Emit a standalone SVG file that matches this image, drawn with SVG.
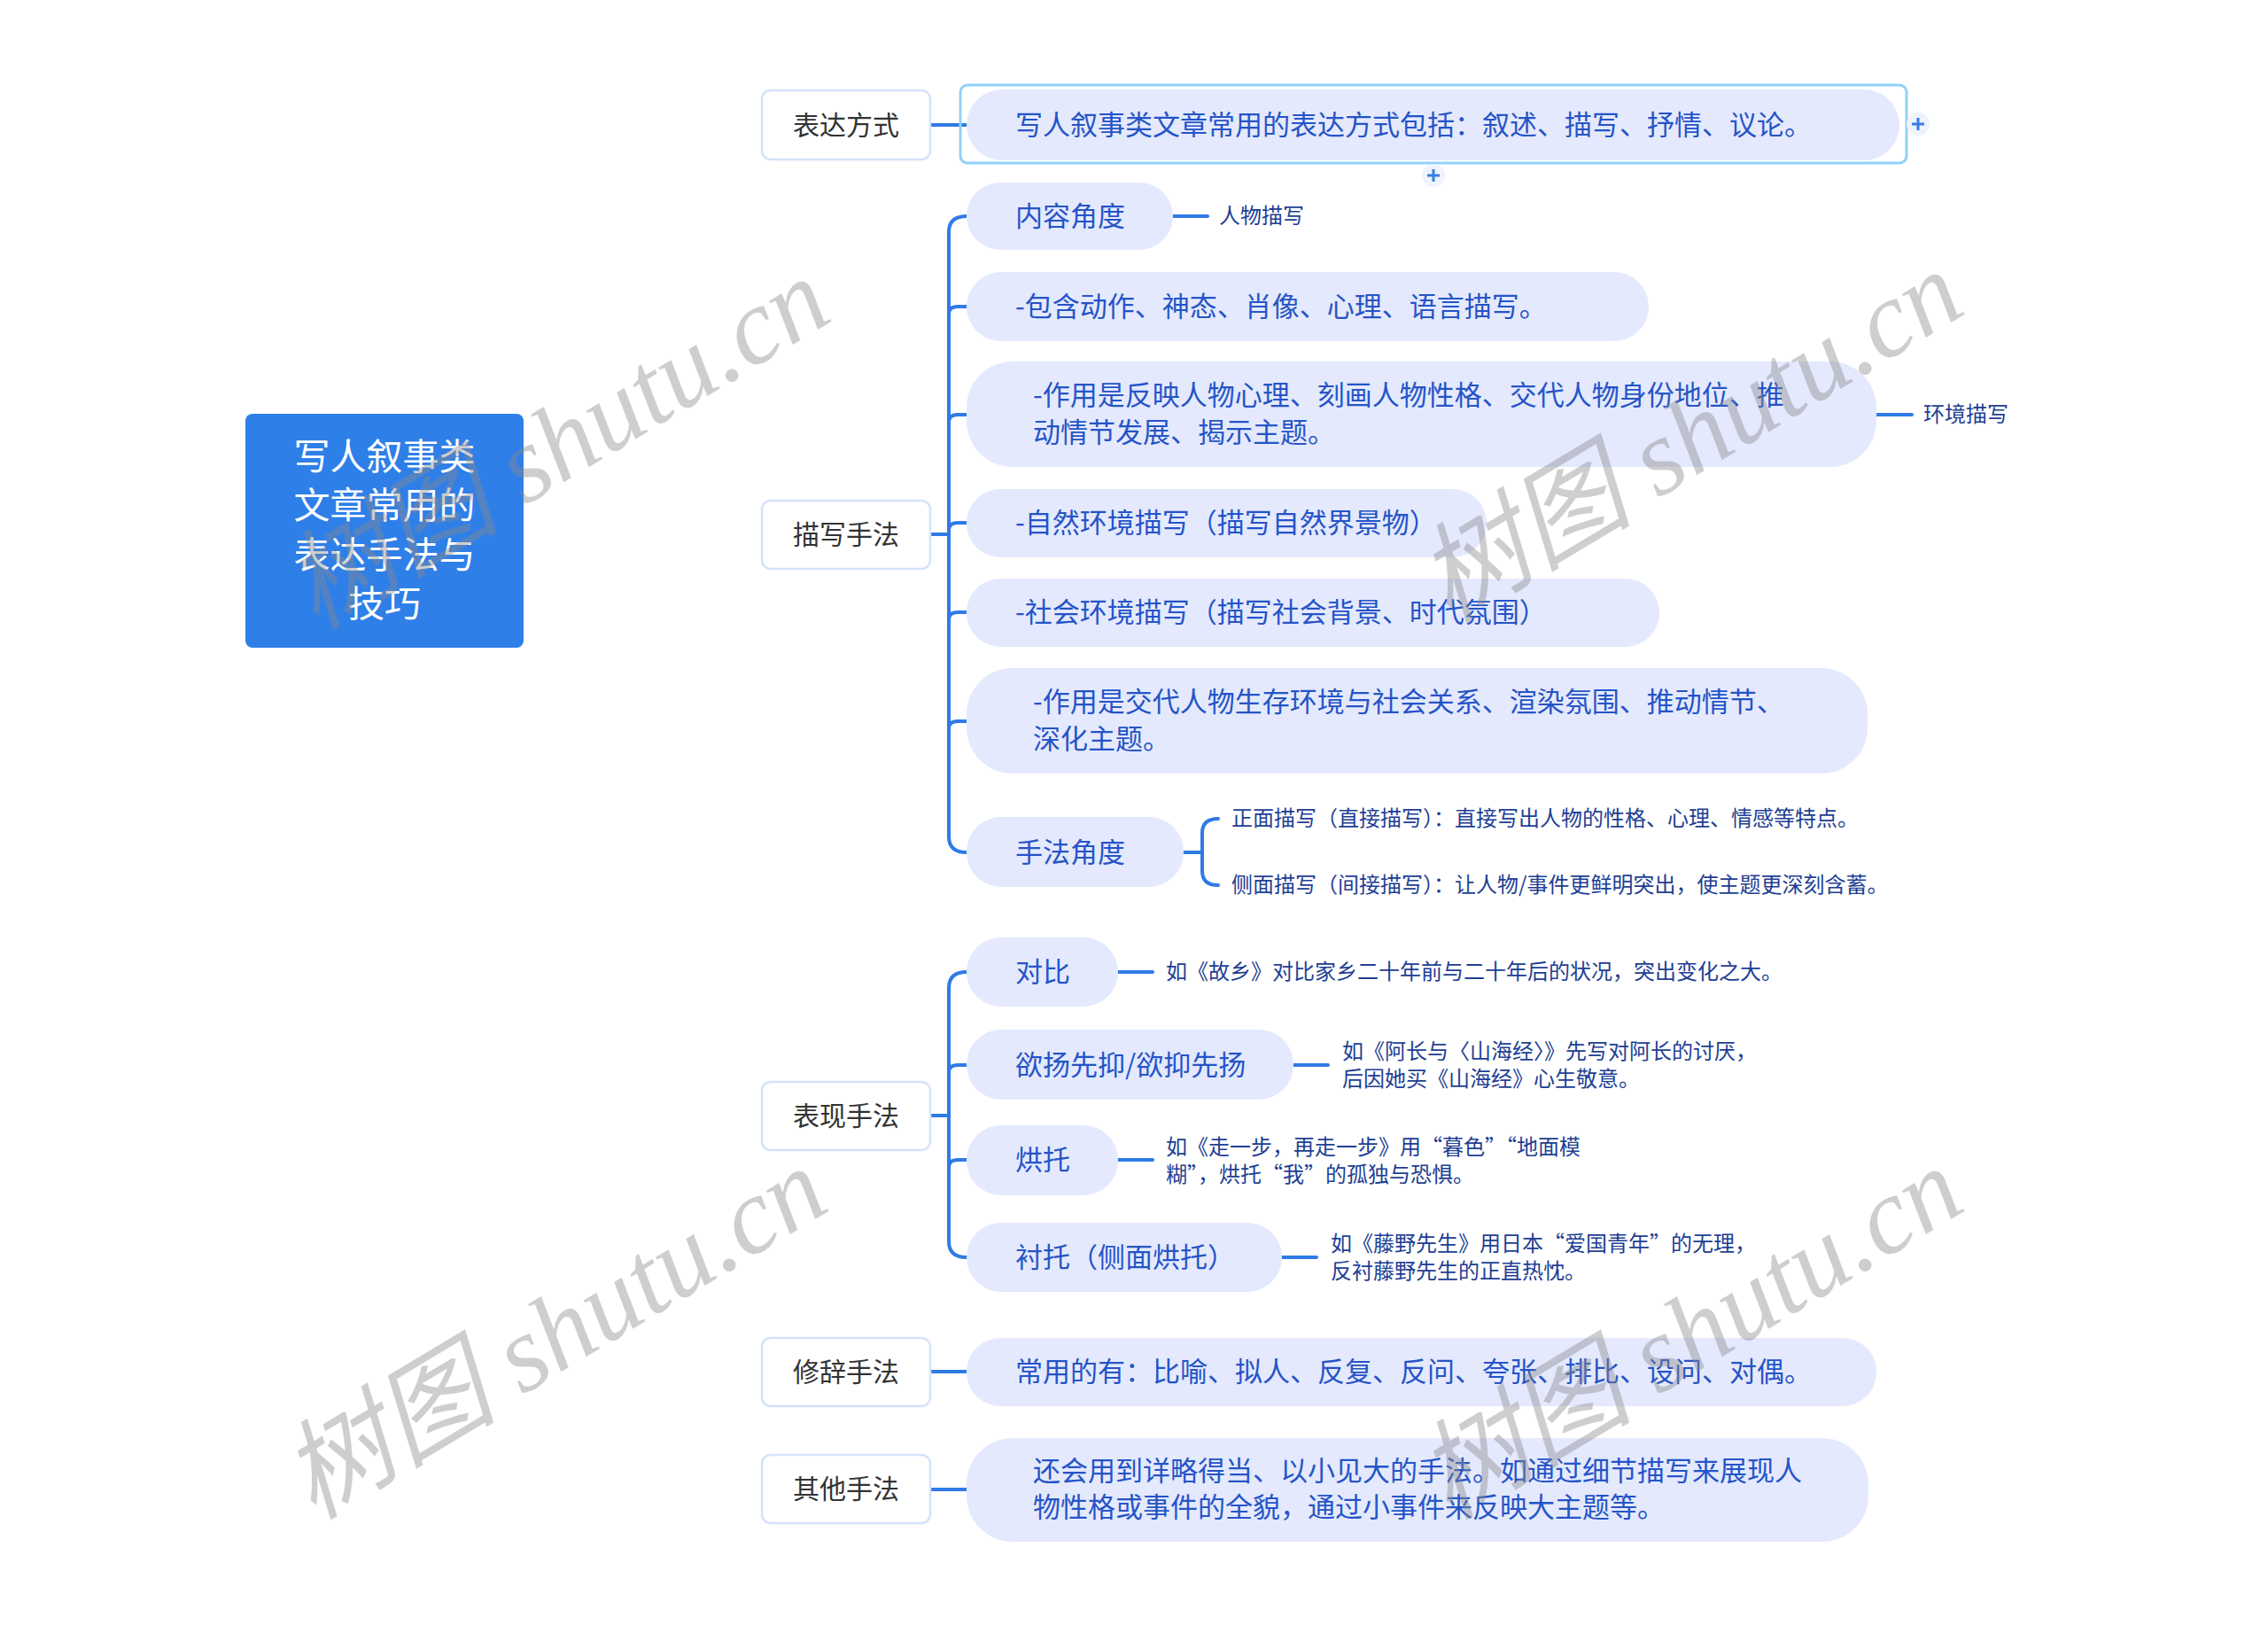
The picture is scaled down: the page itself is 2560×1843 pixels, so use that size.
<svg xmlns="http://www.w3.org/2000/svg" width="2560" height="1843" viewBox="0 0 2560 1843">
<style>
text{font-family:"Noto Sans CJK SC","Liberation Sans",sans-serif;}
.root{fill:#2f7fe8;}
.roott{fill:#ffffff;font-size:41px;text-anchor:middle;}
.l1{fill:#ffffff;stroke:#d6e2fb;stroke-width:2.5;}
.l1t{fill:#333333;font-size:30px;text-anchor:middle;}
.l2{fill:#e4e9fd;}
.l2t{fill:#2554c7;font-size:31px;}
.leaf{fill:#213e93;font-size:24px;}
.conn{fill:none;stroke:#2f7be6;stroke-width:4;stroke-linecap:round;stroke-linejoin:round;}
.sel{fill:none;stroke:#8fd2fa;stroke-width:3;}
.plus{fill:#eef3fd;}
.plusl{stroke:#3b7ee2;stroke-width:3;}
.wm{fill:#8a8a8a;fill-opacity:0.42;font-family:"Liberation Serif","Noto Sans CJK SC",serif;font-size:122px;font-style:italic;text-anchor:middle;}
</style>
<rect width="2560" height="1843" fill="#ffffff"/>

<g id="connectors">
  <path class="conn" d="M1050 141 L1091 141"/>
  <path class="conn" d="M1050 603 L1071 603"/>
  <path class="conn" d="M1091 244 Q1071 244 1071 262 L1071 944 Q1071 962 1091 962"/>
  <path class="conn" d="M1071 354 Q1071 346 1081 346 L1091 346"/>
  <path class="conn" d="M1071 476 Q1071 468 1081 468 L1091 468"/>
  <path class="conn" d="M1071 598 Q1071 590 1081 590 L1091 590"/>
  <path class="conn" d="M1071 699 Q1071 691 1081 691 L1091 691"/>
  <path class="conn" d="M1071 822 Q1071 814 1081 814 L1091 814"/>
  <path class="conn" d="M1324 244 L1363 244"/>
  <path class="conn" d="M2118 468 L2158 468"/>
  <path class="conn" d="M1336 962 L1357 962"/>
  <path class="conn" d="M1375 924 Q1357 924 1357 940 L1357 983 Q1357 999 1375 999"/>
  <path class="conn" d="M1050 1259 L1071 1259"/>
  <path class="conn" d="M1091 1097 Q1071 1097 1071 1115 L1071 1401 Q1071 1419 1091 1419"/>
  <path class="conn" d="M1071 1210 Q1071 1202 1081 1202 L1091 1202"/>
  <path class="conn" d="M1071 1317 Q1071 1309 1081 1309 L1091 1309"/>
  <path class="conn" d="M1262 1097 L1301 1097"/>
  <path class="conn" d="M1460 1202 L1499 1202"/>
  <path class="conn" d="M1262 1309 L1301 1309"/>
  <path class="conn" d="M1447 1419 L1486 1419"/>
  <path class="conn" d="M1050 1548 L1091 1548"/>
  <path class="conn" d="M1050 1681 L1091 1681"/>
</g>

<g id="root">
  <rect class="root" x="277" y="467" width="314" height="264" rx="8"/>
  <text class="roott" x="434" y="530">写人叙事类</text>
  <text class="roott" x="434" y="585">文章常用的</text>
  <text class="roott" x="434" y="641">表达手法与</text>
  <text class="roott" x="434" y="696">技巧</text>
</g>

<g id="n-biaoda">
  <rect class="l1" x="860" y="102" width="190" height="78" rx="10"/>
  <text class="l1t" x="955" y="152">表达方式</text>
</g>
<g id="n-miaoxie">
  <rect class="l1" x="860" y="565" width="190" height="77" rx="10"/>
  <text class="l1t" x="955" y="614">描写手法</text>
</g>
<g id="n-biaoxian">
  <rect class="l1" x="860" y="1221" width="190" height="77" rx="10"/>
  <text class="l1t" x="955" y="1270">表现手法</text>
</g>
<g id="n-xiuci">
  <rect class="l1" x="860" y="1510" width="190" height="77" rx="10"/>
  <text class="l1t" x="955" y="1559">修辞手法</text>
</g>
<g id="n-qita">
  <rect class="l1" x="860" y="1642" width="190" height="77" rx="10"/>
  <text class="l1t" x="955" y="1691">其他手法</text>
</g>

<g id="n-biaoda-c">
  <rect class="l2" x="1091" y="101" width="1053" height="80" rx="40"/>
  <rect class="sel" x="1084" y="96" width="1068" height="88" rx="8"/>
  <text class="l2t" x="1146" y="152">写人叙事类文章常用的表达方式包括：叙述、描写、抒情、议论。</text>
  <circle class="plus" cx="2165" cy="140" r="13"/>
  <path class="plusl" d="M2158 140 H2172 M2165 133 V147"/>
  <circle class="plus" cx="1618" cy="198" r="13"/>
  <path class="plusl" d="M1611 198 H1625 M1618 191 V205"/>
</g>

<g id="n-neirong">
  <rect class="l2" x="1091" y="206" width="233" height="76" rx="38"/>
  <text class="l2t" x="1146" y="255">内容角度</text>
</g>
<g id="n-renwu">
  <text class="leaf" x="1376" y="252">人物描写</text>
</g>
<g id="n-baohan">
  <rect class="l2" x="1091" y="307" width="770" height="78" rx="39"/>
  <text class="l2t" x="1146" y="357">-包含动作、神态、肖像、心理、语言描写。</text>
</g>
<g id="n-zuoyong1">
  <rect class="l2" x="1091" y="408" width="1027" height="119" rx="52"/>
  <text class="l2t" x="1166" y="457">-作用是反映人物心理、刻画人物性格、交代人物身份地位、推</text>
  <text class="l2t" x="1166" y="499">动情节发展、揭示主题。</text>
</g>
<g id="n-huanjing">
  <text class="leaf" x="2171" y="476">环境描写</text>
</g>
<g id="n-ziran">
  <rect class="l2" x="1091" y="552" width="587" height="77" rx="38"/>
  <text class="l2t" x="1146" y="601">-自然环境描写（描写自然界景物）</text>
</g>
<g id="n-shehui">
  <rect class="l2" x="1091" y="653" width="782" height="77" rx="38"/>
  <text class="l2t" x="1146" y="702">-社会环境描写（描写社会背景、时代氛围）</text>
</g>
<g id="n-zuoyong2">
  <rect class="l2" x="1091" y="754" width="1017" height="119" rx="52"/>
  <text class="l2t" x="1166" y="803">-作用是交代人物生存环境与社会关系、渲染氛围、推动情节、</text>
  <text class="l2t" x="1166" y="845">深化主题。</text>
</g>
<g id="n-shoufa">
  <rect class="l2" x="1091" y="922" width="245" height="79" rx="39"/>
  <text class="l2t" x="1146" y="973">手法角度</text>
</g>
<g id="n-zhengmian">
  <text class="leaf" x="1390" y="932">正面描写（直接描写）：直接写出人物的性格、心理、情感等特点。</text>
</g>
<g id="n-cemian">
  <text class="leaf" x="1390" y="1007">侧面描写（间接描写）：让人物/事件更鲜明突出，使主题更深刻含蓄。</text>
</g>

<g id="n-duibi">
  <rect class="l2" x="1091" y="1058" width="171" height="78" rx="39"/>
  <text class="l2t" x="1146" y="1108">对比</text>
</g>
<g id="n-duibi-l">
  <text class="leaf" x="1316" y="1105">如《故乡》对比家乡二十年前与二十年后的状况，突出变化之大。</text>
</g>
<g id="n-yuyang">
  <rect class="l2" x="1091" y="1162" width="369" height="79" rx="39"/>
  <text class="l2t" x="1146" y="1213">欲扬先抑/欲抑先扬</text>
</g>
<g id="n-yuyang-l">
  <text class="leaf" x="1515" y="1195">如《阿长与〈山海经〉》先写对阿长的讨厌，</text>
  <text class="leaf" x="1515" y="1226">后因她买《山海经》心生敬意。</text>
</g>
<g id="n-hongtuo">
  <rect class="l2" x="1091" y="1270" width="171" height="79" rx="39"/>
  <text class="l2t" x="1146" y="1320">烘托</text>
</g>
<g id="n-hongtuo-l">
  <text class="leaf" x="1316" y="1303">如《走一步，再走一步》用“暮色”“地面模</text>
  <text class="leaf" x="1316" y="1334">糊”，烘托“我”的孤独与恐惧。</text>
</g>
<g id="n-chentuo">
  <rect class="l2" x="1091" y="1380" width="356" height="78" rx="39"/>
  <text class="l2t" x="1146" y="1430">衬托（侧面烘托）</text>
</g>
<g id="n-chentuo-l">
  <text class="leaf" x="1502" y="1412">如《藤野先生》用日本“爱国青年”的无理，</text>
  <text class="leaf" x="1502" y="1443">反衬藤野先生的正直热忱。</text>
</g>

<g id="n-xiuci-c">
  <rect class="l2" x="1091" y="1510" width="1027" height="77" rx="38"/>
  <text class="l2t" x="1146" y="1559">常用的有：比喻、拟人、反复、反问、夸张、排比、设问、对偶。</text>
</g>
<g id="n-qita-c">
  <rect class="l2" x="1091" y="1623" width="1018" height="117" rx="52"/>
  <text class="l2t" x="1166" y="1671">还会用到详略得当、以小见大的手法。如通过细节描写来展现人</text>
  <text class="l2t" x="1166" y="1712">物性格或事件的全貌，通过小事件来反映大主题等。</text>
</g>

<g id="watermark">
  <text class="wm" transform="translate(650 536) rotate(-31)">树图 shutu.cn</text>
  <text class="wm" transform="translate(1929 528) rotate(-31)">树图 shutu.cn</text>
  <text class="wm" transform="translate(647 1540) rotate(-31)">树图 shutu.cn</text>
  <text class="wm" transform="translate(1929 1540) rotate(-31)">树图 shutu.cn</text>
</g>
</svg>
